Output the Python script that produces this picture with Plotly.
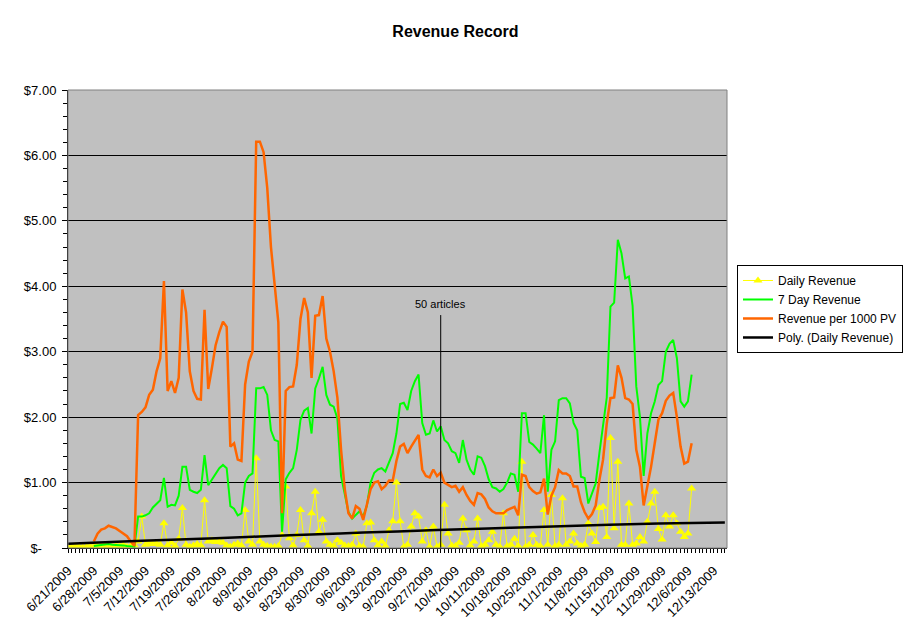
import pandas as pd
import plotly.graph_objects as go

# daily series, one value per day starting 6/21/2009
start_date = "2009-06-21"

daily_revenue = [
    0.02, 0.01, 0.03, 0.02, 0.01, 0.02, 0.03, 0.02, 0.04, 0.03,
    0.05, 0.03, 0.02, 0.04, 0.03, 0.05, 0.02, 0.03, 0.04, 0.10,
    0.48, 0.05, 0.08, 0.06, 0.07, 0.05, 0.38, 0.04, 0.08, 0.03,
    0.14, 0.61, 0.05, 0.02, 0.04, 0.06, 0.04, 0.73, 0.10, 0.12,
    0.09, 0.10, 0.08, 0.04, 0.02, 0.05, 0.07, 0.04, 0.58, 0.10,
    0.05, 1.37, 0.10, 0.05, 0.03, 0.02, 0.02, 0.03, 0.20, 0.94,
    0.15, 0.04, 0.20, 0.58, 0.12, 0.03, 0.53, 0.86, 0.25, 0.43,
    0.10, 0.05, 0.03, 0.12, 0.08, 0.04, 0.03, 0.05, 0.22, 0.03,
    0.02, 0.38, 0.39, 0.12, 0.04, 0.10, 0.03, 0.27, 0.41, 1.00,
    0.41, 0.02, 0.05, 0.33, 0.53, 0.48, 0.10, 0.27, 0.02, 0.33,
    0.02, 0.05, 0.66, 0.22, 0.04, 0.03, 0.08, 0.45, 0.27, 0.04,
    0.10, 0.45, 0.03, 0.05, 0.12, 0.25, 0.05, 0.02, 0.53, 0.03,
    0.05, 0.14, 0.03, 1.32, 0.02, 0.05, 0.20, 0.05, 0.03, 0.58,
    0.05, 0.81, 0.03, 0.05, 0.76, 0.05, 0.10, 0.22, 0.07, 0.03,
    0.05, 0.38, 0.22, 0.09, 0.61, 0.63, 0.17, 1.68, 0.30, 1.32,
    0.05, 0.05, 0.68, 0.05, 0.07, 0.17, 0.10, 0.40, 0.68, 0.86,
    0.29, 0.13, 0.50, 0.33, 0.50, 0.38, 0.25, 0.17, 0.22, 0.91,
]

seven_day_revenue = [
    None, None, None, None, None, None, None, 0.03, 0.04, 0.05,
    0.05, 0.06, 0.05, 0.05, 0.04, 0.04, 0.03, 0.03, 0.02, 0.48,
    0.48, 0.50, 0.53, 0.62, 0.68, 0.73, 1.07, 0.63, 0.66, 0.65,
    0.80, 1.24, 1.24, 0.89, 0.86, 0.84, 0.89, 1.42, 0.96, 1.05,
    1.15, 1.22, 1.27, 1.22, 0.64, 0.60, 0.50, 0.53, 1.00, 1.10,
    1.14, 2.44, 2.44, 2.46, 2.34, 1.80, 1.65, 1.63, 0.25, 1.05,
    1.15, 1.22, 1.50, 1.96, 2.10, 2.14, 1.75, 2.44, 2.59, 2.77,
    2.34, 2.19, 2.16, 1.98, 1.10, 0.80, 0.55, 0.45, 0.50, 0.56,
    0.48, 0.65, 1.00, 1.15, 1.20, 1.22, 1.17, 1.30, 1.45, 1.75,
    2.20, 2.22, 2.11, 2.40, 2.55, 2.65, 1.91, 1.73, 1.75, 1.95,
    1.78, 1.86, 1.65, 1.60, 1.48, 1.45, 1.30, 1.65, 1.35, 1.20,
    1.12, 1.40, 1.38, 1.25, 1.05, 0.93, 0.91, 0.86, 0.90, 1.00,
    1.14, 1.12, 0.86, 2.06, 2.06, 1.62, 1.58, 1.52, 1.45, 2.03,
    0.86, 1.50, 1.63, 2.26, 2.29, 2.29, 2.21, 1.91, 1.80, 1.09,
    1.07, 0.68, 0.84, 0.99, 1.45, 1.91, 2.30, 3.69, 3.75, 4.71,
    4.50, 4.12, 4.15, 3.70, 2.47, 2.00, 1.10, 1.75, 2.06, 2.24,
    2.49, 2.55, 3.00, 3.12, 3.18, 2.90, 2.24, 2.16, 2.24, 2.65,
]

revenue_per_1000_pv = [
    None, None, None, None, None, None, None, 0.10, 0.22, 0.28,
    0.30, 0.34, 0.32, 0.30, 0.26, 0.22, 0.18, 0.10, 0.03, 2.03,
    2.08, 2.15, 2.34, 2.42, 2.70, 2.90, 4.08, 2.40, 2.55, 2.37,
    2.60, 3.95, 3.60, 2.70, 2.40, 2.28, 2.27, 3.64, 2.43, 2.75,
    3.10, 3.30, 3.46, 3.38, 1.55, 1.60, 1.35, 1.33, 2.50, 2.85,
    3.00, 6.21, 6.21, 6.05, 5.50, 4.60, 4.00, 3.45, 0.53, 2.40,
    2.46, 2.47, 2.80, 3.50, 3.82, 3.60, 2.60, 3.55, 3.56, 3.85,
    3.20, 3.00, 2.70, 2.30, 1.50, 0.90, 0.53, 0.45, 0.64, 0.60,
    0.43, 0.65, 0.90, 1.00, 1.02, 0.90, 0.95, 1.03, 1.03, 1.33,
    1.55, 1.59, 1.45, 1.55, 1.65, 1.73, 1.20, 1.10, 1.08, 1.20,
    1.10, 1.15, 1.00, 0.97, 0.93, 0.95, 0.86, 0.93, 0.81, 0.72,
    0.66, 0.84, 0.82, 0.75, 0.62, 0.56, 0.53, 0.53, 0.53, 0.58,
    0.60, 0.63, 0.50, 1.12, 1.10, 0.93, 0.87, 0.83, 0.85, 1.06,
    0.51, 0.80, 0.93, 1.19, 1.14, 1.14, 1.10, 0.94, 0.94, 0.70,
    0.55, 0.45, 0.52, 0.65, 1.04, 1.35, 1.90, 2.29, 2.30, 2.79,
    2.60, 2.29, 2.27, 2.20, 1.50, 1.24, 0.65, 0.94, 1.24, 1.60,
    1.96, 2.06, 2.25, 2.33, 2.37, 2.00, 1.55, 1.29, 1.32, 1.60,
]

# polynomial trendline of daily revenue (with forecast)
trend_dates = ["2009-06-21", "2009-07-11", "2009-07-31", "2009-08-20", "2009-09-09",
               "2009-09-29", "2009-10-19", "2009-11-08", "2009-11-28", "2009-12-16"]
trend_values = [0.065, 0.11, 0.15, 0.195, 0.235, 0.275, 0.31, 0.345, 0.375, 0.39]

y_tickvals = [0, 1, 2, 3, 4, 5, 6, 7]
y_ticktext = ["$-\u00a0\u00a0\u00a0\u00a0", "$1.00", "$2.00", "$3.00", "$4.00", "$5.00", "$6.00", "$7.00"]

note_date = "2009-09-30"
note_text = "50 articles"

dates = pd.date_range(start_date, periods=len(daily_revenue), freq="D")
week_ticks = pd.date_range("2009-06-21", "2009-12-13", freq="7D")
week_labels = [f"{d.month}/{d.day}/{d.year}" for d in week_ticks]

font = "Arial, Liberation Sans, sans-serif"

fig = go.Figure()
fig.add_trace(go.Scatter(x=dates, y=daily_revenue, name="Daily Revenue", mode="lines+markers",
                         line=dict(color="#FFFF00", width=1),
                         marker=dict(symbol="triangle-up", size=8, color="#FFFF00")))
fig.add_trace(go.Scatter(x=dates, y=seven_day_revenue, name="7 Day Revenue", mode="lines",
                         line=dict(color="#00FF00", width=2)))
fig.add_trace(go.Scatter(x=dates, y=revenue_per_1000_pv, name="Revenue per 1000 PV", mode="lines",
                         line=dict(color="#FF6600", width=2.5)))
fig.add_trace(go.Scatter(x=pd.to_datetime(trend_dates), y=trend_values, name="Poly. (Daily Revenue)",
                         mode="lines", line=dict(color="black", width=2.5, shape="spline")))

# annotation line
fig.add_shape(type="line", x0=note_date, x1=note_date, y0=0, y1=3.56,
              line=dict(color="black", width=1))
fig.add_annotation(x=note_date, y=3.73, text=note_text, showarrow=False,
                   font=dict(family=font, size=11, color="black"))

# plot area border
fig.add_shape(type="rect", xref="paper", yref="paper", x0=0, x1=1, y0=0, y1=1,
              line=dict(color="#808080", width=1), layer="above")

# the page body adds an 8px offset, margins account for it
fig.update_layout(
    width=911, height=623,
    margin=dict(l=60, r=192, t=82, b=83),
    paper_bgcolor="white", plot_bgcolor="#C0C0C0",
    font=dict(family=font, size=13, color="black"),
    title=dict(text="<b>Revenue Record</b>", x=0.4912, xanchor="center", xref="container",
               y=0.963, yanchor="middle",
               font=dict(family=font, size=16, color="black")),
    showlegend=True,
    legend=dict(xref="container", yref="container", x=0.8002, y=0.5875,
                xanchor="left", yanchor="top",
                bgcolor="white", bordercolor="black", borderwidth=1,
                font=dict(family=font, size=12), itemwidth=30),
)
fig.update_xaxes(
    range=["2009-06-21", "2009-12-16 14:00"],
    tickvals=week_ticks, ticktext=week_labels, tickangle=-45,
    ticks="outside", ticklen=4, tickcolor="black", ticklabelstandoff=5,
    minor=dict(dtick=86400000, ticks="outside", ticklen=4, tickcolor="black", showgrid=False),
    showgrid=False, showline=True, linecolor="black", linewidth=1,
    tickfont=dict(family=font, size=13), zeroline=False, automargin=False,
)
fig.update_yaxes(
    range=[0, 7], tickvals=y_tickvals, ticktext=y_ticktext,
    ticks="outside", ticklen=5, tickcolor="black", ticklabelstandoff=3,
    minor=dict(dtick=0.2, ticks="outside", ticklen=4, tickcolor="black", showgrid=False),
    showgrid=True, gridcolor="black", gridwidth=1,
    showline=True, linecolor="black", linewidth=1, zeroline=False,
    tickfont=dict(family=font, size=13), automargin=False,
)

fig.write_html("out.html")
